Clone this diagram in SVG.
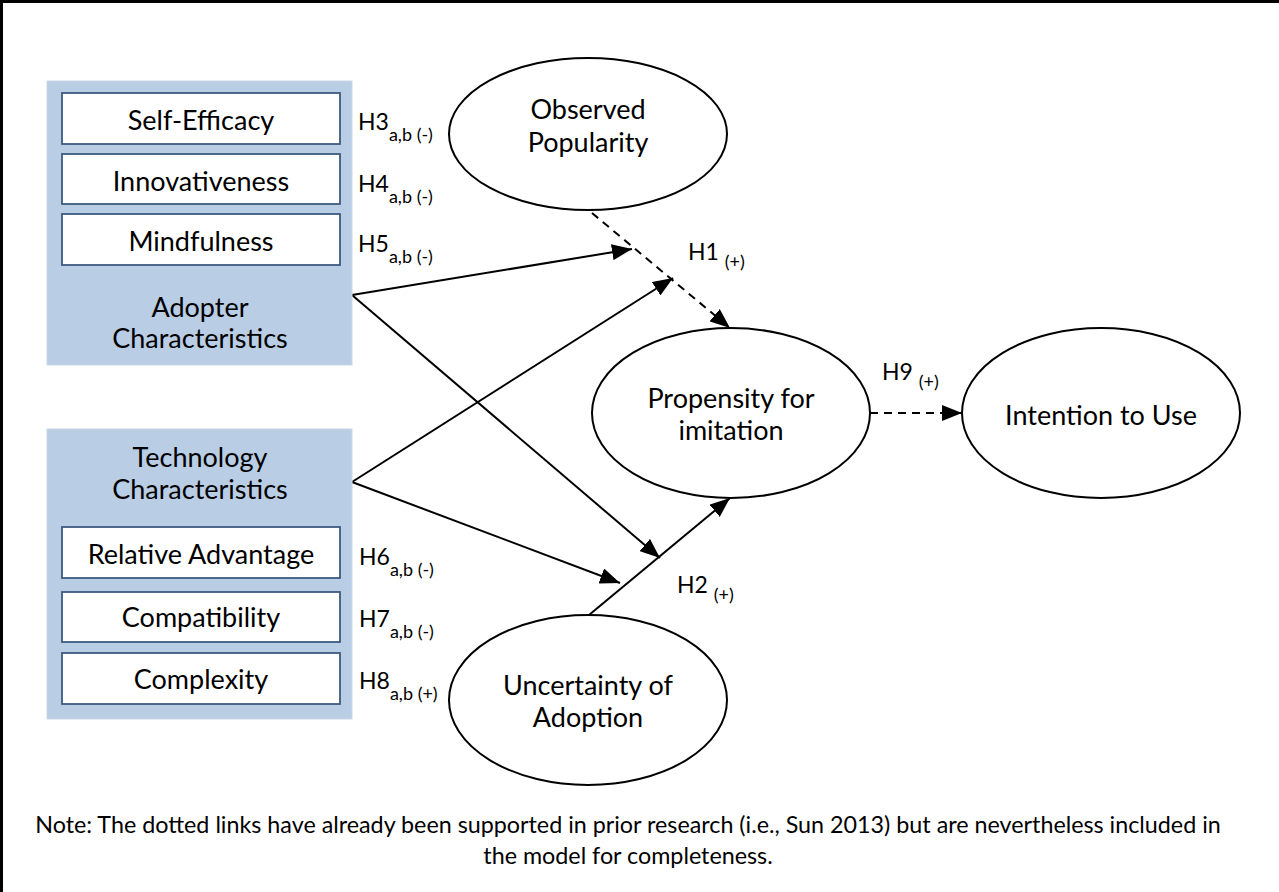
<svg xmlns="http://www.w3.org/2000/svg" width="1279" height="892" viewBox="0 0 1279 892">
  <style>
    text { font-family: Lato, "Open Sans", "Liberation Sans", sans-serif; fill: #000; }
    .lbl { font-size: 27px; text-anchor: middle; }
    .hyp { font-size: 23px; }
    .sub { font-size: 18px; }
    .note { font-size: 23.3px; text-anchor: middle; }
    .panel { fill: #b9cde5; stroke: #c9d7ea; stroke-width: 1; }
    .item { fill: #fff; stroke: #3d5a80; stroke-width: 1.8; }
    .oval { fill: #fff; stroke: #000; stroke-width: 2; }
    .link { fill: none; stroke: #000; stroke-width: 2; }
    .dash { stroke-dasharray: 8 6; }
  </style>
  <defs>
    <marker id="arrow" viewBox="0 0 20 16" refX="20" refY="8" markerWidth="20" markerHeight="16" markerUnits="userSpaceOnUse" orient="auto">
      <path d="M0,0 L20,8 L0,16 Z" fill="#000"/>
    </marker>
  </defs>

  <rect width="1279" height="892" fill="#fff"/>
  <!-- frame -->
  <path d="M1.5,892 V1.5 H1279" fill="none" stroke="#000" stroke-width="3"/>

  <!-- connectors -->
  <g id="connectors">
    <path class="link dash" d="M592,213 L730,328" marker-end="url(#arrow)"/>
    <path class="link" d="M352,295 L632,249" marker-end="url(#arrow)"/>
    <path class="link" d="M352,295 L660,558" marker-end="url(#arrow)"/>
    <path class="link" d="M352,482 L673,278" marker-end="url(#arrow)"/>
    <path class="link" d="M352,482 L620,583" marker-end="url(#arrow)"/>
    <path class="link" d="M589,615 L730,498" marker-end="url(#arrow)"/>
    <path class="link dash" d="M870,413 L962,413" marker-end="url(#arrow)"/>
  </g>

  <!-- adopter characteristics panel -->
  <g id="adopter">
    <rect class="panel" x="47" y="81" width="305" height="284"/>
    <rect class="item" x="62" y="93" width="278" height="51"/>
    <text class="lbl" x="201" y="130">Self-Efficacy</text>
    <rect class="item" x="62" y="154" width="278" height="50"/>
    <text class="lbl" x="201" y="191">Innovativeness</text>
    <rect class="item" x="62" y="214" width="278" height="51"/>
    <text class="lbl" x="201" y="251">Mindfulness</text>
    <text class="lbl" x="200" y="317">Adopter</text>
    <text class="lbl" x="200" y="348">Characteristics</text>
  </g>

  <!-- technology characteristics panel -->
  <g id="technology">
    <rect class="panel" x="47" y="429" width="305" height="290"/>
    <text class="lbl" x="200" y="467">Technology</text>
    <text class="lbl" x="200" y="499">Characteristics</text>
    <rect class="item" x="62" y="527" width="278" height="51"/>
    <text class="lbl" x="201" y="564">Relative Advantage</text>
    <rect class="item" x="62" y="592" width="278" height="50"/>
    <text class="lbl" x="201" y="627">Compatibility</text>
    <rect class="item" x="62" y="653" width="278" height="51"/>
    <text class="lbl" x="201" y="689">Complexity</text>
  </g>

  <!-- hypothesis labels -->
  <g id="hypotheses">
    <text class="hyp" x="358" y="130">H3<tspan class="sub" dy="11">a,b (-)</tspan></text>
    <text class="hyp" x="358" y="192">H4<tspan class="sub" dy="11">a,b (-)</tspan></text>
    <text class="hyp" x="358" y="252">H5<tspan class="sub" dy="11">a,b (-)</tspan></text>
    <text class="hyp" x="359" y="565">H6<tspan class="sub" dy="11">a,b (-)</tspan></text>
    <text class="hyp" x="359" y="627">H7<tspan class="sub" dy="11">a,b (-)</tspan></text>
    <text class="hyp" x="359" y="689">H8<tspan class="sub" dy="11">a,b (+)</tspan></text>
    <text class="hyp" x="688" y="260">H1 <tspan class="sub" dy="8">(+)</tspan></text>
    <text class="hyp" x="677" y="593">H2 <tspan class="sub" dy="8">(+)</tspan></text>
    <text class="hyp" x="882" y="380">H9 <tspan class="sub" dy="8">(+)</tspan></text>
  </g>

  <g id="observed-popularity">
    <ellipse class="oval" cx="588" cy="134" rx="139" ry="76"/>
    <text class="lbl" x="588" y="119">Observed</text>
    <text class="lbl" x="588" y="152">Popularity</text>
  </g>

  <g id="propensity">
    <ellipse class="oval" cx="731" cy="413" rx="139" ry="85"/>
    <text class="lbl" x="731" y="408">Propensity for</text>
    <text class="lbl" x="731" y="440">imitation</text>
  </g>

  <g id="intention">
    <ellipse class="oval" cx="1101" cy="413" rx="139" ry="85"/>
    <text class="lbl" x="1101" y="425">Intention to Use</text>
  </g>

  <g id="uncertainty">
    <ellipse class="oval" cx="588" cy="700" rx="139" ry="85"/>
    <text class="lbl" x="588" y="695">Uncertainty of</text>
    <text class="lbl" x="588" y="727">Adoption</text>
  </g>

  <g id="note">
    <text class="note" x="628" y="833">Note: The dotted links have already been supported in prior research (i.e., Sun 2013) but are nevertheless included in</text>
    <text class="note" x="628" y="864">the model for completeness.</text>
  </g>
</svg>
